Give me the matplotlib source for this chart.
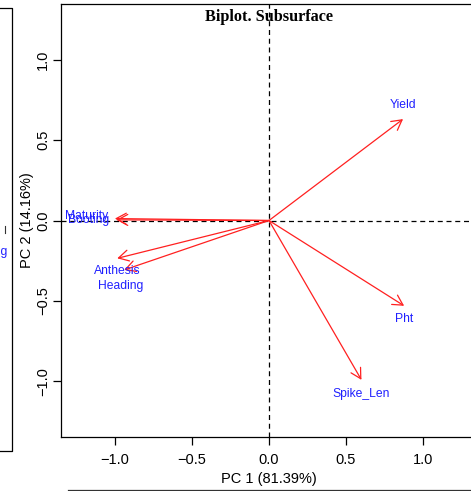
import matplotlib
matplotlib.use("Agg")
import matplotlib.pyplot as plt
from matplotlib.lines import Line2D

# PCA loadings (PC1, PC2) for each trait
variables = ["Yield", "Pht", "Spike_Len", "Maturity", "Booting", "Anthesis", "Heading"]
pc1 = [0.87, 0.877, 0.60, -1.00, -0.99, -0.985, -0.94]
pc2 = [0.63, -0.53, -0.99, 0.012, 0.004, -0.235, -0.307]

pc1_label = "PC 1 (81.39%)"
pc2_label = "PC 2 (14.16%)"
title = "Biplot. Subsurface"
xticks = [-1.0, -0.5, 0.0, 0.5, 1.0]
yticks = [-1.0, -0.5, 0.0, 0.5, 1.0]

# label placement relative to arrow tips (offset in points, horizontal alignment)
label_offsets = {
    "Yield": ((0, 10), "center"),
    "Pht": ((0, -9.5), "center"),
    "Spike_Len": ((0, -10), "center"),
    "Maturity": ((-5, 2.2), "right"),
    "Booting": ((-5, 0.2), "right"),
    "Anthesis": ((0, -9), "center"),
    "Heading": ((-2.5, -11.5), "center"),
}

W, H = 471, 491
fig = plt.figure(figsize=(W / 100, H / 100), dpi=100)

# axes box in pixel coordinates (right edge runs past the figure edge)
left_px, right_px, top_px, bottom_px = 61, 477, 4, 437
ax = fig.add_axes([left_px / W, (H - bottom_px) / H,
                   (right_px - left_px) / W, (bottom_px - top_px) / H])
ax.set_xlim(-1.35, 1.35)
ax.set_ylim(-1.345, 1.345)

sans = "Liberation Sans"

# reference lines through the origin
ax.axhline(0, color="black", lw=0.9, ls=(0, (4, 3)), zorder=1)
ax.axvline(0, color="black", lw=0.9, ls=(0, (4, 3)), zorder=1)

# loading arrows and variable names
for name, x, y in zip(variables, pc1, pc2):
    ax.annotate("", xy=(x, y), xytext=(0, 0),
                arrowprops=dict(arrowstyle="->,head_length=0.4,head_width=0.22",
                                color="#ff2020", lw=0.9, mutation_scale=18,
                                shrinkA=0, shrinkB=0), zorder=3)
    (dx, dy), ha = label_offsets[name]
    ax.annotate(name, xy=(x, y), xytext=(dx, dy), textcoords="offset points",
                ha=ha, va="center", color="#2020ff", fontsize=8.7,
                family=sans, zorder=4)

ax.text(0.5, 0.97, title, transform=ax.transAxes, ha="center", va="center",
        fontsize=11.7, fontweight="bold", family="Liberation Serif")

ax.set_xticks(xticks)
ax.set_yticks(yticks)
ax.set_xticklabels([f"{t:.1f}".replace("-", "\u2212") for t in xticks],
                   family=sans, fontsize=10.5)
ax.set_yticklabels([f"{t:.1f}".replace("-", "\u2212") for t in yticks],
                   family=sans, fontsize=10.5, rotation=90, va="center")
ax.tick_params(axis="x", length=5.8, width=0.9, pad=6)
ax.tick_params(axis="y", length=5.8, width=0.9, pad=2)

ax.set_xlabel(pc1_label, family=sans, fontsize=10.5)
ax.set_ylabel(pc2_label, family=sans, fontsize=10.5)
ax.xaxis.set_label_coords(0.5, (bottom_px - 479) / (bottom_px - top_px))
ax.xaxis.label.set_va("center")
ax.yaxis.set_label_coords((27 - left_px) / (right_px - left_px), 0.5)
ax.yaxis.label.set_va("center")

for s in ax.spines.values():
    s.set_linewidth(0.9)
    s.set_color("black")

# edges of the neighbouring panels
def px_line(xs, ys, **kw):
    fig.add_artist(Line2D([x / W for x in xs], [1 - y / H for y in ys],
                          transform=fig.transFigure, **kw))

px_line([0, 12, 12, 0], [8, 8, 451, 451], color="black", lw=0.9)
px_line([4.5, 4.5], [226, 233], color="#333333", lw=0.8)
px_line([68, 471], [490, 490], color="#333333", lw=0.9)
fig.text(7.5 / W, 1 - 252 / H, "Heading", ha="right", va="center",
         color="#2020ff", fontsize=8.7, family=sans)

fig.savefig("out.png", dpi=100)
